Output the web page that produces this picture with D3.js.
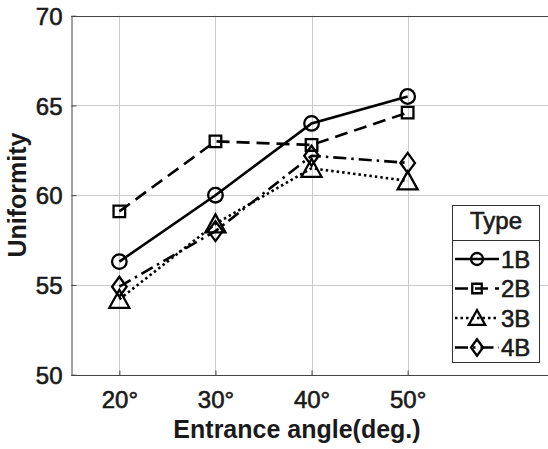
<!DOCTYPE html>
<html>
<head>
<meta charset="utf-8">
<script src="https://cdn.jsdelivr.net/npm/d3@7"></script>
<style>
  body { margin: 0; background: #fff; }
  text { font-family: "Liberation Sans", Arial, sans-serif; fill: #1a1a1a; }
  .heavy { stroke: #1a1a1a; stroke-width: 0.6px; }
</style>
</head>
<body>
<script>
// data
const angles = [20, 30, 40, 50];
const angleLabels = ["20°", "30°", "40°", "50°"];
const yTicks = [50, 55, 60, 65, 70];
const seriesNames = ["1B", "2B", "3B", "4B"];
const u1B = [56.3, 60.0, 64.0, 65.5];
const u2B = [59.1, 63.0, 62.8, 64.6];
const u3B = [54.2, 58.4, 61.5, 60.8];
const u4B = [54.9, 58.0, 62.2, 61.8];

const width = 548, height = 449;
const plotLeft = 71.3, plotTop = 15.7, plotBottom = 374.7;

const series = [
  { name: seriesNames[0], values: u1B, dash: null, marker: "circle" },
  { name: seriesNames[1], values: u2B, dash: "13,7", marker: "square" },
  { name: seriesNames[2], values: u3B, dash: "2.5,3", marker: "triangle" },
  { name: seriesNames[3], values: u4B, dash: "13,5,2.5,5", marker: "diamond" }
];

const x = d3.scaleLinear().domain([15, 65]).range([plotLeft, 551.8]);
const y = d3.scaleLinear().domain([50, 70]).range([plotBottom, plotTop]);

const svg = d3.select("body").append("svg")
  .attr("width", width)
  .attr("height", height);

// grid
const grid = svg.append("g").attr("stroke", "#cccccc").attr("stroke-width", 1);
grid.selectAll("line.v").data(angles).join("line")
  .attr("class", "v")
  .attr("x1", d => Math.round(x(d)) + 0.5).attr("x2", d => Math.round(x(d)) + 0.5)
  .attr("y1", plotTop).attr("y2", plotBottom);
grid.selectAll("line.h").data(yTicks).join("line")
  .attr("class", "h")
  .attr("x1", plotLeft).attr("x2", width)
  .attr("y1", d => Math.round(y(d)) + 0.5).attr("y2", d => Math.round(y(d)) + 0.5);

// axes
const xAxis = svg.append("g")
  .attr("transform", `translate(0,${Math.round(plotBottom) + 0.5})`)
  .call(d3.axisBottom(x).tickValues(angles)
    .tickFormat((d, i) => angleLabels[i])
    .tickSizeInner(-5).tickSizeOuter(0).tickPadding(15));
xAxis.select(".domain").attr("d", `M${plotLeft},0H${width}`);

const yAxis = svg.append("g")
  .attr("transform", `translate(${Math.round(plotLeft) + 0.5},0)`)
  .call(d3.axisLeft(y).tickValues(yTicks)
    .tickSizeInner(-5).tickSizeOuter(0).tickPadding(9));

svg.selectAll(".domain, .tick line").attr("stroke", "#444").attr("stroke-width", 1);
svg.selectAll(".tick text")
  .attr("class", "heavy")
  .attr("font-family", "Liberation Sans, Arial, sans-serif")
  .attr("font-size", 24)
  .attr("fill", "#1a1a1a");
yAxis.selectAll(".tick text").attr("dy", "0.36em");

// top border
svg.append("line")
  .attr("x1", plotLeft).attr("x2", width)
  .attr("y1", Math.round(plotTop) + 0.5).attr("y2", Math.round(plotTop) + 0.5)
  .attr("stroke", "#444");

// axis titles
svg.append("text")
  .attr("x", 297).attr("y", 438)
  .attr("text-anchor", "middle")
  .attr("font-size", 25).attr("font-weight", "bold")
  .text("Entrance angle(deg.)");

svg.append("text")
  .attr("transform", "translate(26,195) rotate(-90)")
  .attr("text-anchor", "middle")
  .attr("font-size", 25).attr("font-weight", "bold")
  .text("Uniformity");

// marker shapes
function markerPath(type, s) {
  switch (type) {
    case "circle": {
      const r = 7.3 * s;
      return `M${-r},0A${r},${r} 0 1,0 ${r},0A${r},${r} 0 1,0 ${-r},0Z`;
    }
    case "square": {
      const h = 5.8 * s;
      return `M${-h},${-h}H${h}V${h}H${-h}Z`;
    }
    case "triangle": {
      const w = 10 * s, h = 8.5 * s;
      return `M0,${-h - 1}L${w},${h}H${-w}Z`;
    }
    case "diamond": {
      const w = 7.3 * s, h = 10 * s;
      return `M0,${-h}L${w},0L0,${h}L${-w},0Z`;
    }
  }
}

const line = d3.line().x(d => x(d.a)).y(d => y(d.v));

const plot = svg.append("g");
series.forEach(s => {
  const pts = angles.map((a, i) => ({ a, v: s.values[i] }));
  plot.append("path")
    .datum(pts)
    .attr("d", line)
    .attr("fill", "none")
    .attr("stroke", "#000")
    .attr("stroke-width", 2.6)
    .attr("stroke-dasharray", s.dash);
  plot.selectAll(null).data(pts).join("path")
    .attr("transform", d => `translate(${x(d.a)},${y(d.v)})`)
    .attr("d", markerPath(s.marker, 1))
    .attr("fill", "none")
    .attr("stroke", "#000")
    .attr("stroke-width", 2.3);
});

// legend
const legend = svg.append("g");
legend.append("rect")
  .attr("x", 452.5).attr("y", 205.5)
  .attr("width", 87).attr("height", 157)
  .attr("fill", "#fff").attr("stroke", "#333");
legend.append("line")
  .attr("x1", 452.5).attr("x2", 539.5)
  .attr("y1", 240.5).attr("y2", 240.5)
  .attr("stroke", "#333");
legend.append("text")
  .attr("class", "heavy")
  .attr("x", 496).attr("y", 229)
  .attr("text-anchor", "middle")
  .attr("font-size", 24)
  .text("Type");

const rowY = [259, 288.5, 318, 347.5];
series.forEach((s, i) => {
  const g = legend.append("g").attr("transform", `translate(0,${rowY[i]})`);
  g.append("line")
    .attr("x1", 455).attr("x2", 499)
    .attr("y1", 0).attr("y2", 0)
    .attr("stroke", "#000").attr("stroke-width", 2.6)
    .attr("stroke-dasharray", s.dash);
  g.append("path")
    .attr("transform", "translate(477,0)")
    .attr("d", markerPath(s.marker, 0.82))
    .attr("fill", "none").attr("stroke", "#000").attr("stroke-width", 2.3);
  g.append("text")
    .attr("class", "heavy")
    .attr("x", 501).attr("y", 8.5)
    .attr("font-size", 24)
    .text(s.name);
});
</script>
</body>
</html>
